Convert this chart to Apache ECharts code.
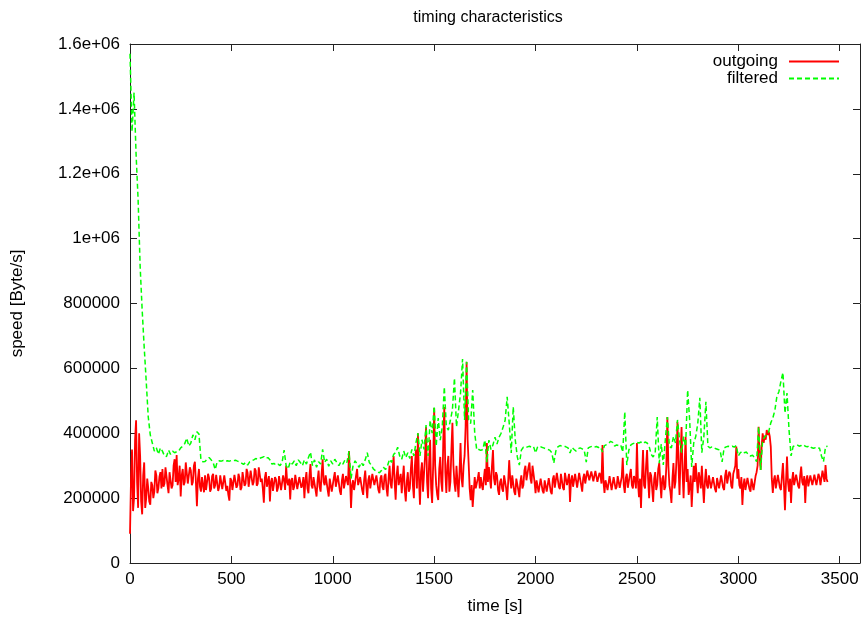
<!DOCTYPE html>
<html>
<head>
<meta charset="utf-8">
<script src="https://cdn.jsdelivr.net/npm/echarts@6/dist/echarts.min.js"></script>
<style>
html,body{margin:0;padding:0;background:#fff;}
#chart{width:864px;height:619px;}
</style>
</head>
<body>
<div id="chart"></div>
<script>
// sampling steps of the series (seconds), values start at t = 0
const STEP_OUT = 5;
const STEP_FILT = 10;

// values in units of 1000 Byte/s
const outgoing = [
  90,260, 350,160, 200,380, 440,250, 170,400, 330,190, 150,270, 310,170, 200,260, 230,190, 180,250, 240,200, 220,285, 270,215, 230,265, 280,230,
  290,235, 245,295, 300,240, 215,280, 285,230, 240,300, 320,250, 333,240, 260,300, 205,270, 290,240, 250,310, 305,245, 240,295, 285,240, 250,300, 312,250, 175,260, 290,235, 220,265,
  240,218, 270,225, 230,275, 262,220, 228,268, 275,230, 240,272, 268,222, 235,270, 272,228,
  232,270, 265,222, 238,210, 192,262, 255,225, 228,272, 270,232, 240,275, 262,225, 232,280,
  285,238, 245,290, 278,235, 240,285, 290,240, 250,292, 285,238, 245,295, 300,250, 260,230,
  186,262, 280,235, 240,268, 190,250, 262,222, 228,265, 258,220, 232,268, 265,225, 230,270,
  255,225, 300,250, 240,260, 196,255, 262,225, 235,272, 270,228, 230,265, 268,232,
  240,265, 200,255, 280,230, 215,270, 305,240, 230,265, 270,225, 205,255, 285,235, 220,275,
  320,250, 240,270, 275,225, 205,260, 260,220, 215,262, 280,235, 230,270, 265,222, 210,255,
  275,230, 225,268, 270,240, 345,260, 170,240, 255,225, 220,270, 290,240, 240,265, 270,225,
  210,258, 285,238, 200,255, 270,230, 235,275, 280,240, 245,270, 265,225, 215,262, 270,235,
  225,268, 275,230, 205,260, 300,245, 230,280, 330,250, 195,270, 300,240, 240,275,
  215,260, 300,225, 190,250, 280,220, 230,290, 330,240, 200,300, 350,230, 400,260, 180,280, 310,220, 225,330, 419,250, 200,310, 380,230, 185,300, 478,300, 240,210, 194,290, 327,250, 220,380,
  481,280, 216,300, 330,220, 250,350, 432,300, 247,220, 300,250, 203,280, 370,260, 234,300,
  330,420, 620,380, 308,230, 194,240, 173,220, 265,230, 234,260, 280,230, 265,240, 225,260,
  290,240, 370,250, 296,260, 230,300, 348,260, 240,280, 270,225, 210,250, 260,230, 220,270,
  250,230, 194,250, 317,260, 230,270, 265,220, 210,260, 255,225, 203,250, 270,230, 240,285,
  300,255, 250,295, 310,260, 245,300, 295,250, 215,255, 255,218, 220,260, 262,222, 215,255,
  250,220, 225,262, 258,220, 212,258, 270,232, 235,278, 280,235, 228,275, 275,232, 225,278,
  282,240, 235,275, 188,255, 270,235, 230,275, 272,232, 235,278,
  280,240, 220,262, 275,245, 250,285, 285,255, 250,282, 288,252, 255,284, 280,250, 250,278,
  270,245, 364,250, 216,255, 260,225, 230,268, 265,225, 228,265, 262,228, 235,268, 270,232,
  230,265, 324,240, 216,262, 275,232, 235,272, 290,240, 230,268, 260,230, 370,250, 203,260,
  170,270, 348,240, 230,300, 348,260, 200,280, 270,230, 188,260, 280,225, 240,290, 308,250,
  200,260, 270,225, 235,300, 450,300, 240,220, 185,260, 308,230, 250,320, 435,300, 210,330,
  419,280, 200,300, 388,250, 290,210, 235,270, 173,240, 300,250, 308,260, 215,280, 260,230,
  300,240, 185,250, 290,240, 230,270, 270,230, 225,265, 262,228, 218,262, 265,230, 235,270,
  265,232, 225,270, 287,245, 240,282, 275,238, 230,275, 287,300, 359,260, 290,240, 230,265,
  179,240, 260,225, 225,262, 266,228, 220,260, 262,225, 230,268, 280,300, 420,330, 287,360,
  400,370, 393,380, 410,395, 405,390, 359,260, 216,255, 270,230, 235,272, 275,232, 225,268,
  308,240, 163,250, 328,250, 220,260, 185,255, 280,240, 235,272, 275,238, 230,270, 297,250,
  240,268, 185,255, 270,236, 232,270, 268,240, 235,272, 270,240, 238,275, 265,240, 240,285,
  280,250, 302,260, 250
];

const filtered = [
  1570, 1330, 1450, 1260, 1120, 915, 780, 665, 560, 450, 395, 370, 345, 355, 335, 355,
  345, 330, 328, 348, 335, 345, 340, 343, 345, 355, 360, 368, 385, 360, 370, 395, 380, 405, 398, 317,
  312, 313, 320, 325, 318, 310, 288, 312, 315, 314,
  316, 313, 315, 314, 316, 315, 317, 314, 312, 308,
  304, 310, 302, 312, 315, 318, 322, 320, 323, 325,
  328, 322, 325, 318, 305, 307, 302, 305, 300, 310,
  348, 300, 290, 312, 305, 315, 300, 318, 310,
  300, 318, 305, 325, 342, 300, 318, 295, 312, 305,
  350, 310, 320, 298, 315, 305, 320, 310, 300, 312,
  305, 318, 310, 345, 260, 300, 315, 305, 295, 310,
  300, 318, 340, 310, 302, 290, 285, 282, 278, 285,
  295, 288, 300, 320, 310, 335, 340, 357, 330,
  320, 345, 325, 340, 322, 350, 330, 370, 400, 330, 380, 350, 425, 330, 440, 400, 484, 360, 447, 379, 420,
  543, 420, 410, 440, 472, 570, 420, 470, 524, 629,
  441, 620, 441, 430, 533, 400, 348, 350, 347, 350,
  379, 311, 379, 350, 364, 388, 367, 388, 400, 419,
  440, 512, 432, 339, 481, 379, 327, 302, 348, 357,
  355, 358, 360, 357, 359, 339, 358, 360, 357, 355,
  352, 350, 348, 340, 308, 345, 358, 362, 360, 361,
  358, 355, 339, 356, 350, 345, 352,
  355, 352, 348, 311, 355, 358, 360, 357, 359, 356,
  358, 342, 362, 365, 368, 375, 372, 360, 364, 362,
  364, 342, 466, 302, 348, 364, 368, 370, 372, 370,
  373, 368, 373, 370, 360, 335, 327, 340, 450, 308,
  367, 302, 380, 450, 360, 355, 390, 370, 441, 380,
  340, 390, 360, 533, 440, 296, 370, 390, 430, 509,
  340, 390, 497, 360, 355, 358, 355, 352, 350, 348,
  312, 355, 358, 360, 358, 360, 357, 362, 330, 340,
  345, 340, 342, 333, 330, 332, 325, 312, 420, 287,
  379, 389, 395, 405, 432, 447, 470, 513, 528, 560,
  587, 462, 524, 410, 330, 359, 362, 364, 360, 362,
  365, 360, 358, 362, 356, 354, 355, 352, 355, 330,
  312, 359, 360
];

const seriesNames = ['outgoing', 'filtered'];
const yTickLabels = ['0', '200000', '400000', '600000', '800000', '1e+06', '1.2e+06', '1.4e+06', '1.6e+06'];
const xTickLabels = ['0', '500', '1000', '1500', '2000', '2500', '3000', '3500'];
const titleText = 'timing characteristics';
const xName = 'time [s]';
const yName = 'speed [Byte/s]';

const FONT = 'Liberation Sans, Arial, sans-serif';
const toPairs = (arr, step) => arr.map((v, i) => [i * step, v]);

const chart = echarts.init(document.getElementById('chart'), null, {renderer: 'canvas'});

const axisLineStyle = {color: '#222', width: 1};
const tickStyle = {color: '#222', width: 1};

chart.setOption({
  animation: false,
  backgroundColor: '#fff',
  textStyle: {fontFamily: FONT},
  graphic: [{
    type: 'text',
    x: 488, y: 18,
    style: {text: titleText, font: '16px ' + FONT, fill: '#000', align: 'center', verticalAlign: 'middle'}
  }],
  grid: {left: 130, right: 4, top: 44, bottom: 56, containLabel: false, outerBoundsMode: 'none'},
  legend: {
    orient: 'vertical',
    right: 24,
    top: 53,
    align: 'right',
    padding: 0,
    itemGap: 0,
    itemWidth: 50,
    itemHeight: 14,
    itemStyle: {opacity: 0},
    textStyle: {fontSize: 17, fontFamily: FONT, color: '#000', padding: [0, 6, 0, 0]},
    data: seriesNames
  },
  xAxis: [{
    type: 'value', min: 0, max: 3600, interval: 500,
    name: xName, nameLocation: 'middle', nameGap: 35,
    nameTextStyle: {fontSize: 17, fontFamily: FONT, color: '#000'},
    axisLine: {show: true, onZero: false, lineStyle: axisLineStyle},
    axisTick: {show: true, inside: true, length: 7, lineStyle: tickStyle},
    axisLabel: {show: true, margin: 8, fontSize: 17, fontFamily: FONT, color: '#000', showMaxLabel: false,
      formatter: v => { const k = Math.round(v / 500); return (v % 500 === 0 && k < xTickLabels.length) ? xTickLabels[k] : ''; }},
    splitLine: {show: false}
  }, {
    type: 'value', min: 0, max: 3600, interval: 500, position: 'top',
    axisLine: {show: true, onZero: false, lineStyle: axisLineStyle},
    axisTick: {show: true, inside: true, length: 7, lineStyle: tickStyle},
    axisLabel: {show: false},
    splitLine: {show: false}
  }],
  yAxis: [{
    type: 'value', min: 0, max: 1600, interval: 200,
    name: yName, nameLocation: 'middle', nameGap: 104, nameRotate: 90,
    nameTextStyle: {fontSize: 17, fontFamily: FONT, color: '#000'},
    axisLine: {show: true, onZero: false, lineStyle: axisLineStyle},
    axisTick: {show: true, inside: true, length: 7, lineStyle: tickStyle},
    axisLabel: {show: true, margin: 10, fontSize: 17, fontFamily: FONT, color: '#000',
      formatter: v => yTickLabels[Math.round(v / 200)]},
    splitLine: {show: false}
  }, {
    type: 'value', min: 0, max: 1600, interval: 200, position: 'right',
    axisLine: {show: true, onZero: false, lineStyle: axisLineStyle},
    axisTick: {show: true, inside: true, length: 7, lineStyle: tickStyle},
    axisLabel: {show: false},
    splitLine: {show: false}
  }],
  series: [{
    name: seriesNames[0],
    type: 'line',
    xAxisIndex: 0, yAxisIndex: 0,
    data: toPairs(outgoing, STEP_OUT),
    symbol: 'none',
    sampling: 'none',
    z: 2,
    lineStyle: {color: '#ff0000', width: 1.8},
    itemStyle: {color: '#ff0000'}
  }, {
    name: seriesNames[1],
    type: 'line',
    xAxisIndex: 0, yAxisIndex: 0,
    data: toPairs(filtered, STEP_FILT),
    symbol: 'none',
    z: 3,
    lineStyle: {color: '#00ff00', width: 1.5, type: [5, 3]},
    itemStyle: {color: '#00ff00'}
  }]
});
</script>
</body>
</html>
